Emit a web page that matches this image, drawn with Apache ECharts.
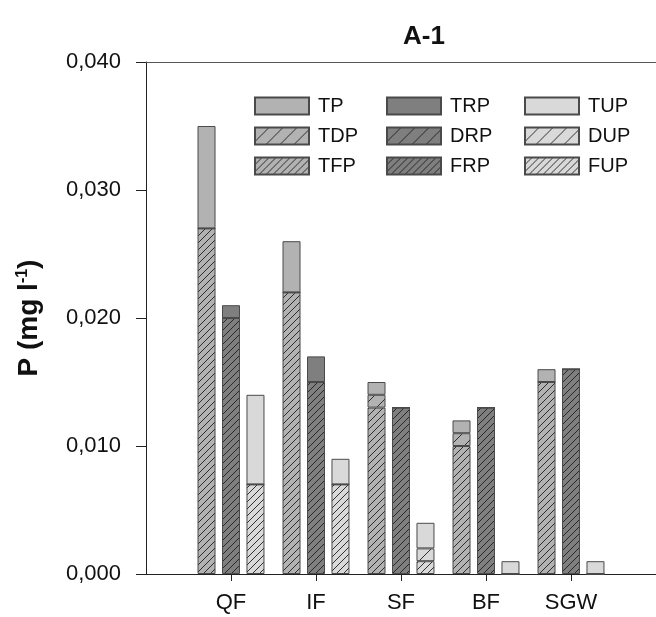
<!DOCTYPE html>
<html>
<head>
<meta charset="utf-8">
<script src="https://cdn.jsdelivr.net/npm/echarts@6/dist/echarts.min.js"></script>
<style>
  html, body { margin: 0; padding: 0; background: #fff; }
  #chart { width: 656px; height: 617px; }
</style>
</head>
<body>
<div id="chart"></div>
<script>
// Sites along the x axis
const categories = ['QF', 'IF', 'SF', 'BF', 'SGW'];

// Phosphorus fractions, mg l-1
const TP  = [0.035, 0.026, 0.015, 0.012, 0.016];
const TDP = [0.027, 0.022, 0.014, 0.011, 0.015];
const TFP = [0.027, 0.022, 0.013, 0.010, 0.015];

const TRP = [0.021, 0.017, 0.013, 0.013, 0.016];
const DRP = [0.020, 0.015, 0.013, 0.013, 0.016];
const FRP = [0.020, 0.015, 0.013, 0.013, 0.016];

const TUP = [0.014, 0.009, 0.004, 0.001, 0.001];
const DUP = [0.007, 0.007, 0.002, 0.000, 0.000];
const FUP = [0.007, 0.007, 0.001, 0.000, 0.000];

const yTicks = [0, 0.01, 0.02, 0.03, 0.04];

const FONT = 'Liberation Sans, Arial, sans-serif';

// The axis keeps an empty slot on each side of the sites
const axisCats = [''].concat(categories, ['']);

// Diagonal hatch fill ("/" lines) on a flat background
function hatch(bg, period) {
  const c = document.createElement('canvas');
  c.width = period; c.height = period;
  const ctx = c.getContext('2d');
  ctx.fillStyle = bg;
  ctx.fillRect(0, 0, period, period);
  ctx.strokeStyle = '#1e1e1e';
  ctx.lineWidth = 0.9;
  ctx.beginPath();
  ctx.moveTo(-1, period + 1); ctx.lineTo(period + 1, -1);
  ctx.moveTo(-1, 1); ctx.lineTo(1, -1);
  ctx.moveTo(period - 1, period + 1); ctx.lineTo(period + 1, period - 1);
  ctx.stroke();
  return { image: c, repeat: 'repeat' };
}

const GREY_T = '#b2b2b2';
const GREY_R = '#7f7f7f';
const GREY_U = '#d9d9d9';

// Each column is a stack: filterable part at the bottom, the rest of the
// dissolved part above it, then the remainder up to the total.
function diff(a, b) { return a.map((v, i) => +(v - b[i]).toFixed(6)); }
function onAxis(arr) { return [null].concat(arr, [null]); }

function seg(name, stack, values, fill) {
  return {
    name: name,
    type: 'bar',
    stack: stack,
    barWidth: 18,
    barGap: '36%',
    data: onAxis(values),
    itemStyle: { color: fill, borderColor: '#4a4a4a', borderWidth: 1 },
    emphasis: { disabled: true },
    animation: false
  };
}

const series = [
  seg('TFP', 'T', TFP, hatch(GREY_T, 7)),
  seg('TDP', 'T', diff(TDP, TFP), hatch(GREY_T, 14)),
  seg('TP',  'T', diff(TP, TDP), GREY_T),
  seg('FRP', 'R', FRP, hatch(GREY_R, 7)),
  seg('DRP', 'R', diff(DRP, FRP), hatch(GREY_R, 14)),
  seg('TRP', 'R', diff(TRP, DRP), GREY_R),
  seg('FUP', 'U', FUP, hatch(GREY_U, 7)),
  seg('DUP', 'U', diff(DUP, FUP), hatch(GREY_U, 14)),
  seg('TUP', 'U', diff(TUP, DUP), GREY_U)
];

function legendCol(names, left) {
  return {
    data: names,
    orient: 'vertical',
    left: left,
    top: 91,
    icon: 'rect',
    itemWidth: 54,
    itemHeight: 17,
    itemGap: 10,
    selectedMode: false,
    textStyle: { fontFamily: FONT, fontSize: 20, color: '#111', lineHeight: 17, padding: [0, 0, 0, 4] }
  };
}

const inSites = (i) => i >= 1 && i <= categories.length;

const chart = echarts.init(document.getElementById('chart'), null, { renderer: 'canvas' });
chart.setOption({
  backgroundColor: '#fff',
  animation: false,
  title: {
    text: 'A-1',
    left: 419,
    top: 19,
    textAlign: 'center',
    textStyle: { fontFamily: FONT, fontSize: 26, fontWeight: 'bold', color: '#111' }
  },
  legend: [
    legendCol(['TP', 'TDP', 'TFP'], 249),
    legendCol(['TRP', 'DRP', 'FRP'], 381),
    legendCol(['TUP', 'DUP', 'FUP'], 519)
  ],
  grid: { left: 146, top: 62, right: 0, bottom: 43 },
  xAxis: [
    {
      type: 'category',
      data: axisCats,
      boundaryGap: false,
      axisLine: { show: true, lineStyle: { color: '#222', width: 1 } },
      axisTick: { show: true, length: 7, interval: inSites, lineStyle: { color: '#222' } },
      axisLabel: {
        interval: inSites,
        margin: 18,
        fontFamily: FONT, fontSize: 22, color: '#111'
      },
      splitLine: { show: false }
    },
    {
      type: 'category',
      data: axisCats,
      boundaryGap: false,
      position: 'top',
      axisLine: { show: true, lineStyle: { color: '#555', width: 1 } },
      axisTick: { show: false },
      axisLabel: { show: false },
      splitLine: { show: false }
    }
  ],
  yAxis: {
    type: 'value',
    min: yTicks[0], max: yTicks[yTicks.length - 1], interval: 0.01,
    axisLine: { show: true, lineStyle: { color: '#222', width: 1 } },
    axisTick: { show: true, length: 10, lineStyle: { color: '#222' } },
    axisLabel: {
      formatter: v => v.toFixed(3).replace('.', ','),
      margin: 25,
      fontFamily: FONT, fontSize: 22, color: '#111'
    },
    splitLine: { show: false },
    name: '{a|P (mg l}{s|-1}{a|)}',
    nameLocation: 'middle',
    nameGap: 103,
    nameTextStyle: {
      rich: {
        a: { fontFamily: FONT, fontSize: 28, fontWeight: 'bold', color: '#111' },
        s: { fontFamily: FONT, fontSize: 16, fontWeight: 'bold', color: '#111', verticalAlign: 'top', padding: [0, 0, 12, 0] }
      }
    }
  },
  series: series
});
</script>
</body>
</html>
